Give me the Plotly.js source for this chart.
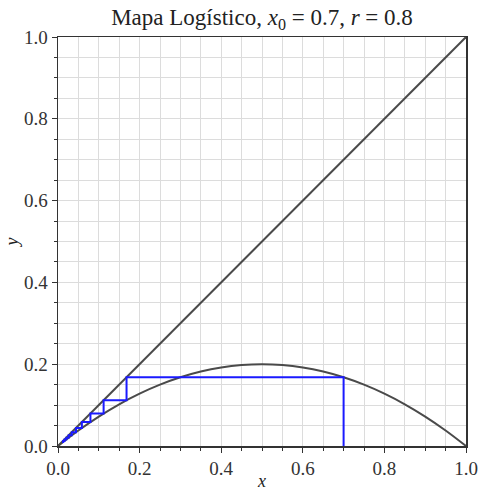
<!DOCTYPE html>
<html>
<head>
<meta charset="utf-8">
<script src="https://cdn.plot.ly/plotly-3.0.1.min.js"></script>
<style>html,body{margin:0;padding:0;background:#fff;}</style>
</head>
<body>
<div id="chart" style="width:480px;height:491px;"></div>
<script>
// Logistic curve samples
const curveX = [0,0.05,0.1,0.15,0.2,0.25,0.3,0.35,0.4,0.45,0.5,0.55,0.6,0.65,0.7,0.75,0.8,0.85,0.9,0.95,1.0];
const curveY = [0,0.038,0.072,0.102,0.128,0.15,0.168,0.182,0.192,0.198,0.2,0.198,0.192,0.182,0.168,0.15,0.128,0.102,0.072,0.038,0];
// Diagonal y = x
const diagX = [0,1];
const diagY = [0,1];
// Cobweb iterates
const iterates = [0.7,0.168,0.1118,0.0795,0.0585,0.0441,0.0337,0.0261,0.0203,0.0159,0.0125,0.0099];
const xTickVals = [0,0.2,0.4,0.6,0.8,1.0];
const xTickText = ['0.0','0.2','0.4','0.6','0.8','1.0'];

const webX = [iterates[0]], webY = [0];
for (let i = 0; i < iterates.length - 1; i++) {
  webX.push(iterates[i]); webY.push(iterates[i+1]);
  webX.push(iterates[i+1]); webY.push(iterates[i+1]);
}

const gray = '#4a4a4a';
const font = 'Liberation Serif, serif';
const traces = [
  {x: curveX, y: curveY, mode: 'lines', line: {color: gray, width: 2, shape: 'spline'}, hoverinfo: 'skip'},
  {x: diagX, y: diagY, mode: 'lines', line: {color: gray, width: 2}, hoverinfo: 'skip'},
  {x: webX, y: webY, mode: 'lines', line: {color: '#1a1aff', width: 2}, hoverinfo: 'skip'}
];

function axis(title, standoff) {
  return {
    range: [0, 1],
    tickvals: xTickVals,
    ticktext: xTickText,
    ticks: 'outside', ticklen: 5, tickwidth: 1, tickcolor: '#333',
    showline: true, linecolor: '#333', linewidth: 1.5, mirror: true,
    showgrid: true, gridcolor: '#dcdcdc', gridwidth: 1,
    zeroline: false,
    tickfont: {family: font, size: 19, color: '#333'},
    minor: {dtick: 0.05, tick0: 0, ticks: 'outside', ticklen: 3, tickcolor: '#333', showgrid: true, gridcolor: '#dcdcdc', gridwidth: 1},
    title: {text: title, font: {family: font, size: 18, color: '#222'}, standoff: standoff},
    fixedrange: true
  };
}

const layout = {
  width: 480, height: 491,
  margin: {l: 58, r: 14, t: 37, b: 45},
  paper_bgcolor: '#fff', plot_bgcolor: '#fff',
  showlegend: false,
  title: {text: 'Mapa Logístico, <i>x</i><sub>0</sub> = 0.7, <i>r</i> = 0.8', x: 0.5, xref: 'paper', xanchor: 'center', y: 0.965, yref: 'container', yanchor: 'middle', font: {family: font, size: 23, color: '#222'}},
  xaxis: axis('<i>x</i>', 4),
  yaxis: axis('<i>y</i>', 0)
};

Plotly.newPlot('chart', traces, layout, {displayModeBar: false, staticPlot: true});
</script>
</body>
</html>
